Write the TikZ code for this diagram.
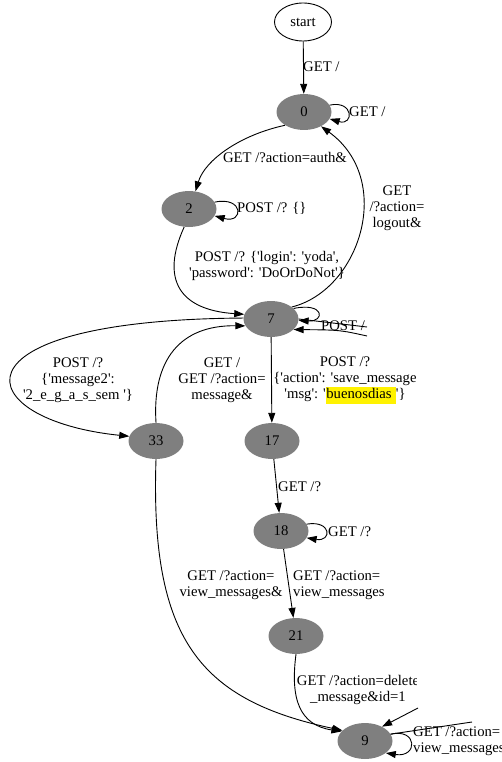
\documentclass[tikz,border=0pt]{standalone}
\usepackage{fontspec}
\newfontfamily\gvfont{Liberation Serif}
\usetikzlibrary{arrows.meta,shapes.geometric}
\usepackage{xcolor}
\definecolor{stategray}{HTML}{7F7F7F}
\newcommand\hlbox[1]{{\setlength{\fboxsep}{0.5pt}\colorbox{yellow}{\strut #1}}}

\begin{document}
\begin{tikzpicture}[x=1pt,y=-1pt,
  font=\gvfont\fontsize{14.7}{16}\selectfont,
  state/.style={ellipse,fill=stategray,minimum width=55pt,minimum height=36pt,inner sep=0pt},
  edge/.style={draw,line width=0.9pt,-{Triangle[length=10pt,width=7pt]}},
  lbl/.style={inner sep=0pt,align=center}]
\useasboundingbox (0,0) rectangle (501,762);
\node [ellipse,draw,line width=0.9pt,minimum width=57pt,minimum height=38pt,inner sep=0pt] (start) at (303,22) {start};
\node [state] (s0) at (304,112) {0};
\node [state] (s2) at (189,209) {2};
\node [state] (s7) at (271,319) {7};
\node [state] (s33) at (156,441) {33};
\node [state] (s17) at (272,441) {17};
\node [state] (s18) at (281,531) {18};
\node [state] (s21) at (296,636) {21};
\node [state] (s9) at (365,741) {9};
\coordinate (o7) at (367,327);
\coordinate (i7) at (367,336);
\coordinate (i9) at (418,708);
\coordinate (o9) at (472,722);

\draw[edge] (start) -- (s0);
\draw[edge] (s0.15) .. controls (354,100) and (354,126) .. (s0.-15);
\draw[edge] (s0.215) .. controls (240,135) and (205,160) .. (s2.70);
\draw[edge] (s2.15) .. controls (244,196) and (244,224) .. (s2.-15);
\draw[edge] (s2.255) .. controls (160,280) and (180,310) .. (s7.170);
\draw[edge] (s7.30) .. controls (360,290) and (395,180) .. (s0.-40);
\draw[edge] (s7.25) .. controls (325,302) and (325,322) .. (s7.-3);
\draw[line width=0.9pt] (s7.east) -- (o7);
\draw[edge] (i7) .. controls (340,330) .. (s7.-25);
\draw[edge] (s7.178) .. controls (-60,320) and (-30,420) .. (s33.170);
\draw[edge] (s33.north) .. controls (152,360) and (180,325) .. (s7.195);
\draw[edge] (s7) -- (s17);
\draw[edge] (s17) -- (s18);
\draw[edge] (s18.15) .. controls (332,520) and (332,542) .. (s18.-15);
\draw[edge] (s18) -- (s21);
\draw[edge] (s33.south) .. controls (150,640) and (200,700) .. (s9.155);
\draw[edge] (s21.south) .. controls (290,700) and (300,725) .. (s9.158);
\draw[edge] (s9.15) .. controls (418,728) and (418,758) .. (s9.-30);
\draw[edge] (i9) -- (s9.40);
\draw[line width=0.9pt] (s9.15) -- (o9);

\node[lbl,anchor=west] (lstart) at (303,67) {GET /};
\node[lbl,anchor=west] (l00) at (349,112) {GET /};
\node[lbl] (l02) at (285,158) {GET /?action=auth\&};
\node[lbl,anchor=west] (l22) at (237,208) {POST /? \{\}};
\node[lbl] (l27) at (267,266) {POST /? \{'login': 'yoda',\\'password': 'DoOrDoNot'\}};
\node[lbl] (l70) at (397,208) {GET\\/?action=\\logout\&};
\node[lbl,anchor=west] (l77) at (321,326) {POST /};
\node[lbl] (l733) at (78,380) {POST /?\\\{'message2':\\'2\_e\_g\_a\_s\_sem '\}};
\node[lbl] (l337) at (222,380) {GET /\\GET /?action=\\message\&};
\node[lbl] (l717) at (345,380) {POST /?\\\{'action': 'save\_message\\'msg': '\hlbox{buenosdias\ }'\}};
\node[lbl,anchor=west] (l1718) at (278,487) {GET /?};
\node[lbl,anchor=west] (l1818) at (328,532) {GET /?};
\node[lbl,anchor=west,align=left] (l1821) at (293,585) {GET /?action=\\view\_messages};
\node[lbl] (l339) at (231,585) {GET /?action=\\view\_messages\&};
\begin{scope}
\clip (290,665) rectangle (416,710);
\node[lbl] (l219) at (358,690) {GET /?action=delete\\\_message\&id=1};
\end{scope}
\node[lbl,anchor=west,align=left] (l99) at (413,741) {GET /?action=\\view\_messages};
\end{tikzpicture}
\end{document}
